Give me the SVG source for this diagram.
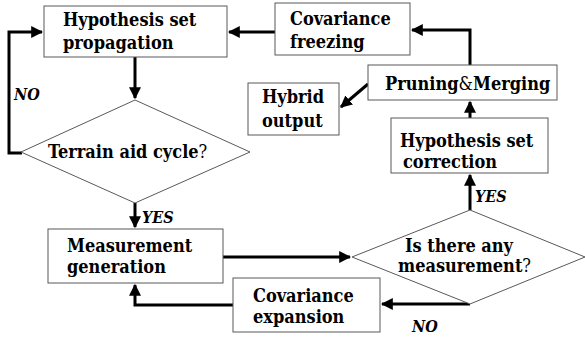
<svg xmlns="http://www.w3.org/2000/svg" width="585" height="342" viewBox="0 0 585 342">
<style>
.box{fill:#fff;stroke:#595959;stroke-width:1}
.t{font-family:"DejaVu Serif Condensed","DejaVu Serif",serif;font-stretch:condensed;font-weight:bold;font-size:18px;fill:#000}
.n{font-weight:normal}
.lb{font-family:"DejaVu Serif Condensed","DejaVu Serif",serif;font-stretch:condensed;font-weight:bold;font-style:italic;font-size:16px;fill:#000}
.c{fill:none;stroke:#000;stroke-width:3}
</style>
<defs>
<marker id="ah" viewBox="0 0 10 10" refX="9" refY="5" markerWidth="4" markerHeight="4" orient="auto" markerUnits="strokeWidth">
<path d="M0,0 L10,5 L0,10 z" fill="#000"/>
</marker>
</defs>
<g id="connectors">
<path class="c" d="M135,57 V98" marker-end="url(#ah)"/>
<path class="c" d="M22,153 H9 V32 H42" marker-end="url(#ah)"/>
<path class="c" d="M275,32 H229" marker-end="url(#ah)"/>
<path class="c" d="M470,65 V30 H412" marker-end="url(#ah)"/>
<path class="c" d="M368,84 L341,107" marker-end="url(#ah)"/>
<path class="c" d="M470,118 V102" marker-end="url(#ah)"/>
<path class="c" d="M135,203 V227" marker-end="url(#ah)"/>
<path class="c" d="M223,257 H350" marker-end="url(#ah)"/>
<path class="c" d="M470,210 V175" marker-end="url(#ah)"/>
<path class="c" d="M470,304 H382" marker-end="url(#ah)"/>
<path class="c" d="M233,305 H135 V285" marker-end="url(#ah)"/>
<text class="lb" x="14" y="100">NO</text>
<text class="lb" x="142" y="223">YES</text>
<text class="lb" x="475" y="202">YES</text>
<text class="lb" x="412" y="332">NO</text>
</g>
<g id="propagation">
<rect class="box" x="44" y="6" width="183" height="51"/>
<text class="t" x="63" y="26">Hypothesis set</text>
<text class="t" x="63" y="49">propagation</text>
</g>
<g id="freezing">
<rect class="box" x="275" y="3" width="135" height="52"/>
<text class="t" x="290" y="25">Covariance</text>
<text class="t" x="290" y="48">freezing</text>
</g>
<g id="pruning">
<rect class="box" x="368" y="65" width="189" height="35"/>
<text class="t" x="385" y="90">Pruning<tspan class="n">&amp;</tspan>Merging</text>
</g>
<g id="hybrid">
<rect class="box" x="248" y="83" width="91" height="52"/>
<text class="t" x="262" y="103">Hybrid</text>
<text class="t" x="262" y="127">output</text>
</g>
<g id="correction">
<rect class="box" x="391" y="118" width="157" height="55"/>
<text class="t" x="400" y="147">Hypothesis set</text>
<text class="t" x="403" y="168">correction</text>
</g>
<g id="terrain">
<polygon class="box" points="135,100 250,152 135,203 21,152"/>
<text class="t" x="48" y="158">Terrain aid cycle<tspan class="n">?</tspan></text>
</g>
<g id="measurement">
<rect class="box" x="48" y="229" width="175" height="54"/>
<text class="t" x="67" y="252">Measurement</text>
<text class="t" x="67" y="273">generation</text>
</g>
<g id="anymeas">
<polygon class="box" points="470,210 585,257 470,304 352,257"/>
<text class="t" x="405" y="252">Is there any</text>
<text class="t" x="398" y="272">measurement<tspan class="n">?</tspan></text>
</g>
<g id="expansion">
<rect class="box" x="233" y="278" width="147" height="54"/>
<text class="t" x="253" y="302">Covariance</text>
<text class="t" x="253" y="323">expansion</text>
</g>
</svg>
